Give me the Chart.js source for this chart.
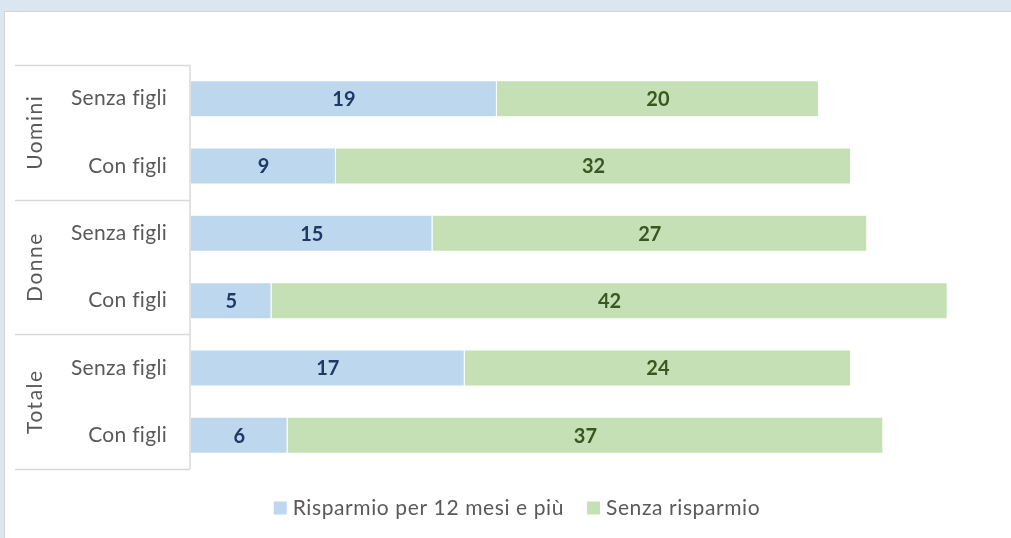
<!DOCTYPE html>
<html>
<head>
<meta charset="utf-8">
<script src="https://cdn.jsdelivr.net/npm/chart.js@4/dist/chart.umd.min.js"></script>
<style>
  html, body { margin: 0; padding: 0; background: #dce6f1; overflow: hidden; }
  #panel { position: absolute; left: 4px; top: 11px; width: 1020px; height: 540px; background: #fff; border: 1px solid #d4d4d4; }
  #wrap { position: absolute; left: 0; top: 0; width: 1011px; height: 538px; }
</style>
</head>
<body>
<div id="panel"></div>
<div id="wrap"><canvas id="savingsChart"></canvas></div>
<script>
// data
const categories = ['Senza figli', 'Con figli', 'Senza figli', 'Con figli', 'Senza figli', 'Con figli'];
const groups = ['Uomini', 'Donne', 'Totale'];
const risparmio = [19, 9, 15, 5, 17, 6];
const senzaRisparmio = [20, 32, 27, 42, 24, 37];
const seriesNames = ['Risparmio per 12 mesi e più', 'Senza risparmio'];

const FONT = 'Lato, "Open Sans", sans-serif';
const labelColors = ['#1f3864', '#385723'];

// left side table with group and sub labels
const axisTable = {
    id: 'axisTable',
    afterDraw(chart) {
        const c = chart.ctx;
        const y = chart.scales.y;
        const area = chart.chartArea;
        const step = y.getPixelForValue(1) - y.getPixelForValue(0);
        c.save();
        c.strokeStyle = '#d9d9d9';
        c.lineWidth = 1.5;
        c.beginPath();
        c.moveTo(area.left - 1, area.top);
        c.lineTo(area.left - 1, area.bottom);
        for (let g = 0; g <= groups.length; g++) {
            const py = Math.round(y.getPixelForValue(g * 2) - step / 2) + 0.5;
            c.moveTo(15, py);
            c.lineTo(area.left - 1, py);
        }
        c.stroke();

        c.fillStyle = '#595959';
        c.font = '21px ' + FONT;
        c.textAlign = 'right';
        c.textBaseline = 'middle';
        c.letterSpacing = '0.3px';
        categories.forEach((lab, i) => {
            c.fillText(lab, 167, y.getPixelForValue(i));
        });
        c.textAlign = 'center';
        c.letterSpacing = '1.5px';
        groups.forEach((g, i) => {
            const cy = (y.getPixelForValue(i * 2) + y.getPixelForValue(i * 2 + 1)) / 2;
            c.save();
            c.translate(35, cy);
            c.rotate(-Math.PI / 2);
            c.fillText(g, 0, 0);
            c.restore();
        });
        c.restore();
    }
};

// value labels in the middle of each bar piece
const barLabels = {
    id: 'barLabels',
    afterDatasetsDraw(chart) {
        const c = chart.ctx;
        c.save();
        c.font = 'bold 20px ' + FONT;
        c.textAlign = 'center';
        c.textBaseline = 'middle';
        chart.data.datasets.forEach((ds, i) => {
            c.fillStyle = labelColors[i];
            chart.getDatasetMeta(i).data.forEach((bar, j) => {
                const p = bar.getProps(['x', 'y', 'base'], true);
                c.fillText(ds.data[j], (p.x + p.base) / 2, p.y + 1);
            });
        });
        c.restore();
    }
};

// legend drawn under the plot
const bottomLegend = {
    id: 'bottomLegend',
    afterDraw(chart) {
        const c = chart.ctx;
        c.save();
        c.font = '21px ' + FONT;
        c.letterSpacing = '0.6px';
        c.textBaseline = 'middle';
        c.textAlign = 'left';
        const box = 13, gap = 6, between = 23;
        const widths = chart.data.datasets.map(ds => box + gap + c.measureText(ds.label).width);
        const total = widths.reduce((a, b) => a + b, 0) + between * (widths.length - 1);
        let x = 517 - total / 2;
        const cy = 508;
        chart.data.datasets.forEach((ds, i) => {
            c.fillStyle = ds.backgroundColor;
            c.fillRect(x, cy - box / 2, box, box);
            c.fillStyle = '#595959';
            c.fillText(ds.label, x + box + gap, cy);
            x += widths[i] + between;
        });
        c.restore();
    }
};

const ctx = document.getElementById('savingsChart').getContext('2d');
const myChart = new Chart(ctx, {
    type: 'bar',
    data: {
        labels: categories,
        datasets: [{
            label: seriesNames[0],
            data: risparmio,
            backgroundColor: '#bdd7ee',
            borderColor: 'rgba(255,255,255,0.5)',
            borderWidth: 1
        }, {
            label: seriesNames[1],
            data: senzaRisparmio,
            backgroundColor: '#c5e0b4',
            borderColor: 'rgba(255,255,255,0.5)',
            borderWidth: 1
        }]
    },
    options: {
        indexAxis: 'y',
        responsive: true,
        maintainAspectRatio: false,
        animation: false,
        layout: {
            padding: { left: 191, right: 15, top: 65, bottom: 69 }
        },
        datasets: {
            bar: { categoryPercentage: 1, barPercentage: 0.55 }
        },
        scales: {
            x: { stacked: true, min: 0, max: 50, display: false },
            y: { stacked: true, display: false }
        },
        plugins: {
            legend: { display: false },
            tooltip: { enabled: false }
        }
    },
    plugins: [axisTable, barLabels, bottomLegend]
});
</script>
</body>
</html>
